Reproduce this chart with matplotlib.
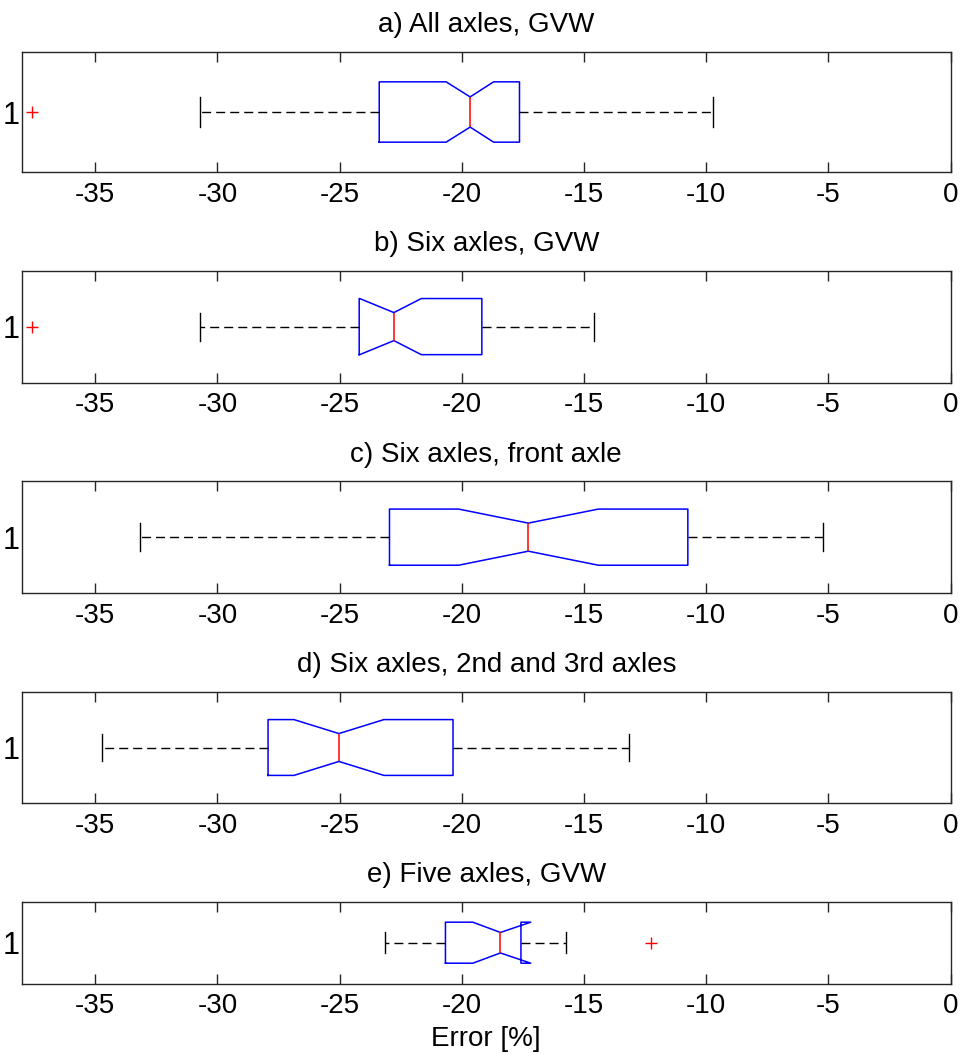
import numpy as np
import matplotlib
matplotlib.use("Agg")
import matplotlib.pyplot as plt

plt.rcParams['font.family'] = ['Liberation Sans', 'DejaVu Sans']

# Estadísticos de cada boxplot (error en %)
titulos = ["a) All axles, GVW",
           "b) Six axles, GVW",
           "c) Six axles, front axle",
           "d) Six axles, 2nd and 3rd axles",
           "e) Five axles, GVW"]
q1 = [-23.38, -24.20, -22.96, -27.93, -20.67]
mediana = [-19.66, -22.78, -17.28, -25.03, -18.42]
q3 = [-17.64, -19.18, -10.75, -20.36, -17.58]
bigote_inf = [-30.70, -30.70, -33.18, -34.72, -23.14]
bigote_sup = [-9.71, -14.57, -5.20, -13.15, -15.72]
muesca_inf = [-20.64, -24.18, -20.13, -26.87, -19.55]
muesca_sup = [-18.70, -21.66, -14.41, -23.19, -17.18]
atipicos = [[-37.58], [-37.58], [], [], [-12.26]]

xticks = [-35, -30, -25, -20, -15, -10, -5, 0]

# posiciones de los ejes en pixeles (arriba, abajo) sobre una figura de 963x1054
W, H = 963, 1054
x0, x1 = 22, 950.5
filas = [(51.7, 172.3), (270.5, 382.7), (481, 593.3), (691.7, 803.3), (901.7, 983.7)]

fig = plt.figure(figsize=(W / 100, H / 100), dpi=100)
color_ejes = '#262626'
fs = 20

for i in range(len(titulos)):
    top, bot = filas[i]
    ax = fig.add_axes([x0 / W, 1 - bot / H, (x1 - x0) / W, (bot - top) / H])
    stats = [{
        'med': mediana[i], 'q1': q1[i], 'q3': q3[i],
        'whislo': bigote_inf[i], 'whishi': bigote_sup[i],
        'cilo': muesca_inf[i], 'cihi': muesca_sup[i],
        'fliers': np.array(atipicos[i]), 'label': '1',
    }]
    ax.bxp(stats, positions=[1], widths=0.5, orientation='horizontal',
           shownotches=True, manage_ticks=False,
           boxprops=dict(color='#0000ff', linewidth=1.1),
           medianprops=dict(color='#ff0000', linewidth=1.1),
           whiskerprops=dict(color='black', linewidth=1.0, linestyle=(0, (6.5, 3.6))),
           capprops=dict(color='black', linewidth=1.0),
           flierprops=dict(marker='+', markeredgecolor='#ff0000', markersize=8,
                           markeredgewidth=1.0, linestyle='none'))
    ax.set_xlim(-38, 0)
    ax.set_ylim(0.5, 1.5)
    ax.set_xticks(xticks)
    ax.set_xticklabels([str(t) for t in xticks])
    ax.set_yticks([1])
    ax.set_yticklabels(['1'])
    ax.tick_params(axis='x', direction='in', top=True, length=7, width=1.0,
                   color=color_ejes, labelsize=fs, pad=7)
    ax.tick_params(axis='y', length=0, labelsize=fs + 2, pad=1.5)
    for sp in ax.spines.values():
        sp.set_color(color_ejes)
        sp.set_linewidth(1.0)
    ax.set_title(titulos[i], fontsize=fs, pad=14)
    if i == len(titulos) - 1:
        ax.set_xlabel('Error [%]', fontsize=fs, labelpad=5)

fig.savefig('out.png', dpi=100)
